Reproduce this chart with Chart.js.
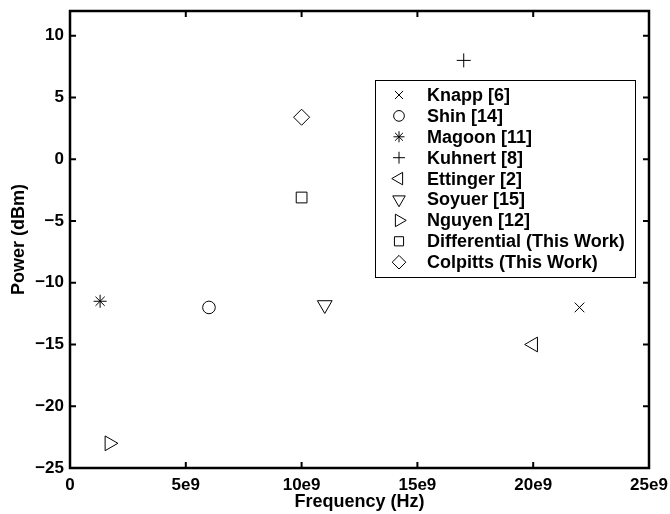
<!DOCTYPE html>
<html>
<head>
<meta charset="utf-8">
<script src="https://cdn.jsdelivr.net/npm/chart.js@4/dist/chart.umd.min.js"></script>
<style>
  html, body { margin: 0; padding: 0; background: #fff; }
  #wrap { width: 670px; height: 514px; }
</style>
</head>
<body>
<div id="wrap"><canvas id="c" width="670" height="514"></canvas></div>
<script>
/* ---------------- Data ---------------- */
const names = [
  "Knapp [6]", "Shin [14]", "Magoon [11]", "Kuhnert [8]", "Ettinger [2]",
  "Soyuer [15]", "Nguyen [12]", "Differential (This Work)", "Colpitts (This Work)"
];
const freqHz = [22e9, 6e9, 1.3e9, 17e9, 20e9, 11e9, 1.7e9, 10e9, 10e9];
const powerDbm = [-12, -12, -11.5, 8, -15, -11.8, -23, -3.1, 3.4];

const xTicks = [0, 5e9, 10e9, 15e9, 20e9, 25e9];
const yTicks = [-25, -20, -15, -10, -5, 0, 5, 10];

/* ---------------- Marker styles ---------------- */
const markers = [
  { style: "crossRot", rot: 0, r: 6.8 },
  { style: "circle", rot: 0, r: 6.3 },
  { style: "star", rot: 0, r: 6.5 },
  { style: "cross", rot: 0, r: 7 },
  { style: "triangle", rot: -90, r: 8.5 },
  { style: "triangle", rot: 180, r: 8.5 },
  { style: "triangle", rot: 90, r: 8.5 },
  { style: "rect", rot: 0, r: 7.6 },
  { style: "rectRot", rot: 0, r: 8 }
];

const FONT = "'Liberation Sans', Arial, Helvetica, sans-serif";
const minus = v => String(v).replace("-", "\u2212");

const datasets = names.map((n, i) => ({
  label: n,
  data: [{ x: freqHz[i], y: powerDbm[i] }],
  pointStyle: markers[i].style,
  rotation: markers[i].rot,
  pointRadius: markers[i].r,
  pointBorderColor: "#000",
  pointBackgroundColor: "rgba(0,0,0,0)",
  pointBorderWidth: 1
}));

/* ---------------- Frame with inward ticks ---------------- */
const framePlugin = {
  id: "frame",
  afterDraw(chart) {
    const { ctx, chartArea: a, scales } = chart;
    const len = 6;
    ctx.save();
    ctx.strokeStyle = "#000";
    ctx.lineWidth = 2;
    ctx.beginPath();
    scales.x.ticks.forEach(t => {
      const px = scales.x.getPixelForValue(t.value);
      ctx.moveTo(px, a.bottom); ctx.lineTo(px, a.bottom - len);
      ctx.moveTo(px, a.top); ctx.lineTo(px, a.top + len);
    });
    scales.y.ticks.forEach(t => {
      const py = scales.y.getPixelForValue(t.value);
      ctx.moveTo(a.left, py); ctx.lineTo(a.left + len, py);
      ctx.moveTo(a.right, py); ctx.lineTo(a.right - len, py);
    });
    ctx.stroke();
    ctx.lineWidth = 2.5;
    ctx.strokeRect(a.left, a.top, a.right - a.left, a.bottom - a.top);
    ctx.restore();
  }
};

/* ---------------- Boxed legend inside the axes ---------------- */
const legendPlugin = {
  id: "boxLegend",
  afterDatasetsDraw(chart) {
    const { ctx } = chart;
    const box = { left: 375, top: 80, right: 635, bottom: 277 };
    const firstY = 95, step = 20.9, markX = 399, textX = 427;
    ctx.save();
    ctx.fillStyle = "#fff";
    ctx.fillRect(box.left, box.top, box.right - box.left, box.bottom - box.top);
    ctx.strokeStyle = "#000";
    ctx.lineWidth = 1;
    ctx.strokeRect(box.left + 0.5, box.top + 0.5, box.right - box.left, box.bottom - box.top);
    ctx.font = "bold 18px " + FONT;
    ctx.textBaseline = "middle";
    chart.data.datasets.forEach((ds, i) => {
      const y = firstY + i * step;
      ctx.strokeStyle = "#000";
      ctx.fillStyle = "rgba(0,0,0,0)";
      ctx.lineWidth = 1;
      Chart.helpers.drawPoint(ctx, {
        pointStyle: ds.pointStyle,
        rotation: ds.rotation,
        radius: ds.pointRadius * 0.85,
        borderWidth: 1
      }, markX, y);
      ctx.fillStyle = "#000";
      ctx.fillText(ds.label, textX, y + 1);
    });
    ctx.restore();
  }
};

new Chart(document.getElementById("c"), {
  type: "scatter",
  data: { datasets },
  options: {
    responsive: false,
    animation: false,
    layout: { padding: { top: 11, right: 21, left: 0, bottom: 0 } },
    plugins: {
      legend: { display: false },
      tooltip: { enabled: false }
    },
    scales: {
      x: {
        type: "linear",
        min: 0,
        max: 25e9,
        afterBuildTicks: s => { s.ticks = xTicks.map(v => ({ value: v })); },
        afterFit: s => { s.height = 46; s.paddingLeft = 0; s.paddingRight = 0; },
        grid: { display: false, drawTicks: false },
        border: { display: false },
        ticks: {
          color: "#000",
          padding: 7,
          maxRotation: 0,
          autoSkip: false,
          font: { family: FONT, size: 17, weight: "bold" },
          callback: v => v === 0 ? "0" : (v / 1e9) + "e9"
        },
        title: {
          display: true,
          text: "Frequency (Hz)",
          color: "#000",
          padding: { top: 0, bottom: 1 },
          font: { family: FONT, size: 18, weight: "bold" }
        }
      },
      y: {
        type: "linear",
        min: -25,
        max: 12,
        afterBuildTicks: s => { s.ticks = yTicks.map(v => ({ value: v })); },
        afterFit: s => { s.width = 70; s.paddingTop = 0; s.paddingBottom = 0; },
        grid: { display: false, drawTicks: false },
        border: { display: false },
        ticks: {
          color: "#000",
          padding: 6,
          autoSkip: false,
          font: { family: FONT, size: 17, weight: "bold" },
          callback: v => minus(v)
        },
        title: {
          display: true,
          text: "Power (dBm)",
          color: "#000",
          padding: { top: 8, bottom: 0 },
          font: { family: FONT, size: 18, weight: "bold" }
        }
      }
    }
  },
  plugins: [framePlugin, legendPlugin]
});
</script>
</body>
</html>
